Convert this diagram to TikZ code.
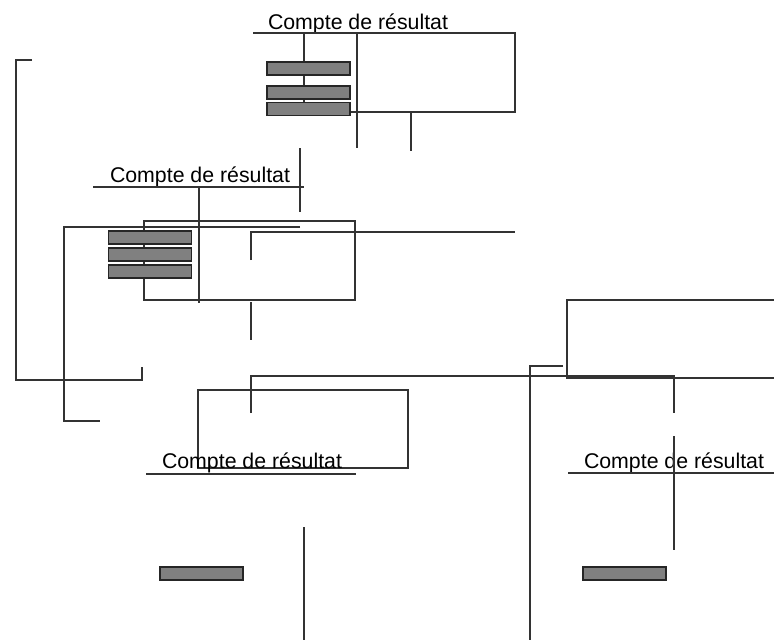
\documentclass[tikz,border=0pt]{standalone}
\usepackage{fontspec}
\setmainfont{Liberation Sans}
\usetikzlibrary{positioning}

\begin{document}
\begin{tikzpicture}[
  x=1pt,y=-1pt,
  line/.style={draw=black!80, line width=1.2pt},
  bar/.style={draw=black!85, fill=black!50, line width=1.2pt, inner sep=0pt,
    minimum width=83pt, minimum height=13pt},
  title/.style={font=\fontsize{21.3}{25}\selectfont, anchor=base, inner sep=0pt}
]
  \useasboundingbox (0,0) rectangle (774,640);

  % upper block
  \node[title] (t1) at (358,29) {Compte de résultat};
  \draw[line] (253,33) -- (515,33) -- (515,112) -- (350,112);
  \draw[line] (304,33) -- (304,103);
  \draw[line] (357,33) -- (357,148);
  \draw[line] (411,112) -- (411,151);
  \draw[line] (300,148) -- (300,212);
  \node[bar] (b1) at (308.5,68.5) {};
  \node[bar] (b2) at (308.5,92.5) {};
  \node[bar] (b3) at (308.5,109) {};

  % middle block
  \node[title] (t2) at (200,182) {Compte de résultat};
  \draw[line] (93,187) -- (304,187);
  \draw[line] (199,187) -- (199,303);
  \draw[line] (144,221) rectangle (355,300);
  \draw[line] (300,227) -- (64,227) -- (64,421) -- (100,421);
  \draw[line] (251,260) -- (251,232) -- (515,232);
  \draw[line] (251,302) -- (251,340);
  \draw[line] (32,60) -- (16,60) -- (16,380) -- (142,380) -- (142,367);
  \node[bar] (b4) at (150,237.5) {};
  \node[bar] (b5) at (150,254.5) {};
  \node[bar] (b6) at (150,271.5) {};

  % lower left block
  \draw[line] (251,413) -- (251,376) -- (674,376) -- (674,413);
  \draw[line] (198,390) rectangle (408,468);
  \node[title] (t3) at (252,468) {Compte de résultat};
  \draw[line] (146,474) -- (356,474);
  \draw[line] (304,527) -- (304,640);
  \node[bar] (b7) at (201.5,573.5) {};

  % lower right block
  \draw[line] (774,300) -- (567,300) -- (567,378) -- (774,378);
  \draw[line] (563,366) -- (530,366) -- (530,640);
  \node[title] (t4) at (674,468) {Compte de résultat};
  \draw[line] (568,473) -- (774,473);
  \draw[line] (674,436) -- (674,550);
  \node[bar] (b8) at (624.5,573.5) {};
\end{tikzpicture}
\end{document}
